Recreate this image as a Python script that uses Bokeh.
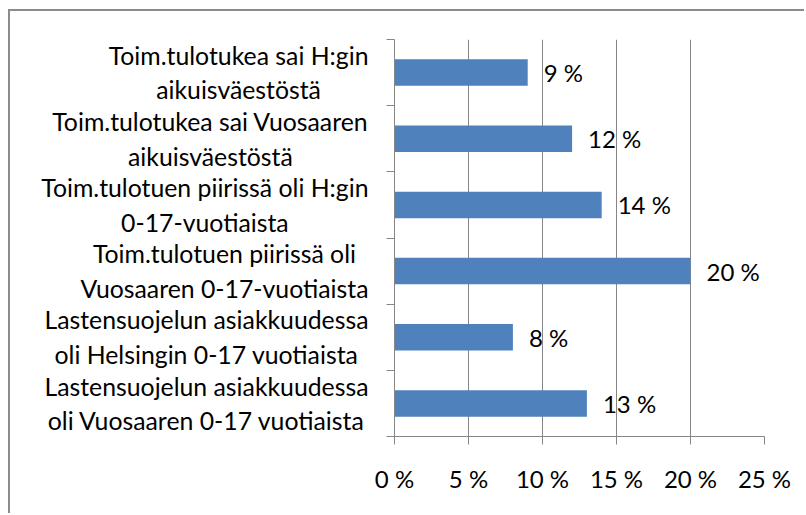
from bokeh.plotting import figure
from bokeh.models import FixedTicker, PrintfTickFormatter, Range1d, ColumnDataSource
from bokeh.embed import file_html
from bokeh.resources import INLINE
from bokeh.core.properties import value

categories = [
    "Toim.tulotukea sai H:gin\naikuisväestöstä",
    "Toim.tulotukea sai Vuosaaren\naikuisväestöstä",
    "Toim.tulotuen piirissä oli H:gin\n0-17-vuotiaista",
    "Toim.tulotuen piirissä oli\nVuosaaren 0-17-vuotiaista",
    "Lastensuojelun asiakkuudessa\noli Helsingin 0-17 vuotiaista",
    "Lastensuojelun asiakkuudessa\noli Vuosaaren 0-17 vuotiaista",
]
values = [9, 12, 14, 20, 8, 13]
x_ticks = [0, 5, 10, 15, 20, 25]

FONT = "Lato"
GRAY = "#868686"
BORDER = "#8c8c8c"
OX, OY = 10, 11          # canvas origin on the page (margins)
W, H = 796, 504
n = len(categories)
ypos = [n - i - 0.5 for i in range(n)]
labels = [f"{v} %" for v in values]

src = ColumnDataSource(dict(y=ypos, v=values, lbl=labels, cat=categories,
                            zero=[0] * n))

p = figure(width=W, height=H, x_range=Range1d(0, 25), y_range=Range1d(0, n),
           output_backend="svg", toolbar_location=None,
           min_border_left=394 - OX, min_border_right=OX + W - 764,
           min_border_top=39 - OY, min_border_bottom=OY + H - 436)
p.styles = {"margin-left": f"{OX}px", "margin-top": f"{OY}px",
            "box-shadow": f"-2px -2px 0 0 {BORDER}"}
p.outline_line_color = None
p.background_fill_color = "white"
p.border_fill_color = "white"

p.hbar(y="y", right="v", left=0, height=0.4, source=src,
       fill_color="#4F81BD", line_color=None)
p.text(x="v", y="y", text="lbl", source=src, x_offset=16,
       text_baseline="middle", text_align="left",
       text_font=value(FONT), text_font_size="24px", text_color="black")

# x axis
p.xaxis.ticker = FixedTicker(ticks=x_ticks)
p.xaxis.formatter = PrintfTickFormatter(format="%d %%")
p.xaxis.major_tick_out = 8
p.xaxis.major_tick_in = 0
p.xaxis.minor_tick_line_color = None
p.xaxis.major_tick_line_color = GRAY
p.xaxis.axis_line_color = GRAY
p.xaxis.major_label_text_font = FONT
p.xaxis.major_label_text_font_size = "24px"
p.xaxis.major_label_text_color = "black"
p.xaxis.major_label_standoff = 19

p.xgrid.ticker = FixedTicker(ticks=x_ticks)
p.xgrid.grid_line_color = GRAY
p.ygrid.grid_line_color = None

# y axis: tick marks between categories only
p.yaxis.ticker = FixedTicker(ticks=[], minor_ticks=list(range(n + 1)))
p.yaxis.major_tick_line_color = None
p.yaxis.major_tick_out = 0
p.yaxis.major_tick_in = 0
p.yaxis.minor_tick_out = 8
p.yaxis.minor_tick_in = 0
p.yaxis.minor_tick_line_color = GRAY
p.yaxis.axis_line_color = GRAY
p.yaxis.major_label_text_font_size = "0px"

# category labels: block right-aligned next to the axis, lines centred
cat_r = p.text(x="zero", y="y", text="cat", source=src, x_offset=-26,
               anchor="center_right", text_align="center", text_baseline="middle",
               text_font=value(FONT), text_font_size="24.8px",
               text_line_height=1.2, text_color="black")
cat_r.level = "overlay"

open("out.html", "w").write(file_html(p, INLINE))
